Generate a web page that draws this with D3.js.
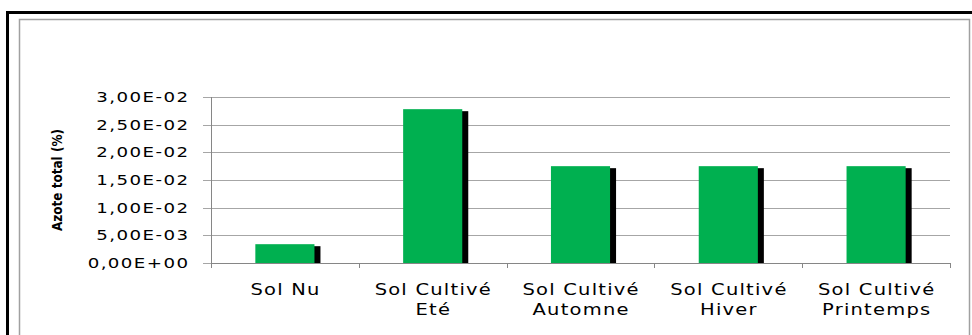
<!DOCTYPE html>
<html>
<head>
<meta charset="utf-8">
<script src="https://cdn.jsdelivr.net/npm/d3@7"></script>
<style>
  html, body { margin: 0; padding: 0; background: #fff; }
  svg { display: block; }
</style>
</head>
<body>
<script>
const categories = [["Sol Nu"], ["Sol Cultivé", "Eté"], ["Sol Cultivé", "Automne"], ["Sol Cultivé", "Hiver"], ["Sol Cultivé", "Printemps"]];
const values = [0.0034, 0.0278, 0.0175, 0.0175, 0.0175];
const yTicks = [0, 0.005, 0.01, 0.015, 0.02, 0.025, 0.03];
const yTickLabels = ["0,00E+00", "5,00E-03", "1,00E-02", "1,50E-02", "2,00E-02", "2,50E-02", "3,00E-02"];
const yTitle = "Azote total (%)";

(function () {
const W = 972, H = 335;
const stretch = 1.3;
const svg = d3.select("body").append("svg").attr("width", W).attr("height", H);

// frames
svg.append("path").attr("d", `M7.5,${H} L7.5,12.5 L${W},12.5`)
  .attr("fill", "none").attr("stroke", "#000").attr("stroke-width", 3);
svg.append("rect").attr("x", 19.5).attr("y", 19.5).attr("width", 950).attr("height", H)
  .attr("fill", "#fff").attr("stroke", "#a0a0a0").attr("stroke-width", 1.5);

const pl = 211, pr = 950, pt = 97, pb = 263;
const x = d3.scaleBand().domain(d3.range(categories.length)).range([pl, pr]).paddingInner(0).paddingOuter(0);
const y = d3.scaleLinear().domain([0, 0.03]).range([pb, pt]);

// gridlines
svg.append("g").selectAll("line").data(yTicks).join("line")
  .attr("x1", pl - 8).attr("x2", pr)
  .attr("y1", d => Math.round(y(d)) + 0.5).attr("y2", d => Math.round(y(d)) + 0.5)
  .attr("stroke", "#a6a6a6").attr("stroke-width", 1);

// y labels
const yls = 1.1;
svg.append("g").selectAll("g").data(yTicks).join("g")
  .attr("transform", d => `translate(${188 + yls * stretch},${y(d)})`)
  .append("text")
  .attr("transform", `scale(${stretch},1)`)
  .attr("text-anchor", "end").attr("dy", "0.36em")
  .attr("letter-spacing", yls)
  .attr("font-family", "DejaVu Sans").attr("font-size", 14).attr("fill", "#000")
  .text((d, i) => yTickLabels[i]);

// y axis line
svg.append("line").attr("x1", pl + 0.5).attr("x2", pl + 0.5).attr("y1", pt).attr("y2", pb + 5)
  .attr("stroke", "#868686").attr("stroke-width", 1);
// x axis line
svg.append("line").attr("x1", pl).attr("x2", pr).attr("y1", pb + 0.5).attr("y2", pb + 0.5)
  .attr("stroke", "#868686").attr("stroke-width", 1);
// x ticks at category boundaries
const bounds = d3.range(categories.length + 1).map(i => pl + i * x.step());
svg.append("g").selectAll("line").data(bounds).join("line")
  .attr("x1", d => Math.round(d) + 0.5).attr("x2", d => Math.round(d) + 0.5)
  .attr("y1", pb).attr("y2", pb + 5)
  .attr("stroke", "#868686").attr("stroke-width", 1);

// bars
const bw = x.step() * 0.4;
const bars = svg.append("g").selectAll("g").data(values).join("g");
bars.append("rect")
  .attr("x", (d, i) => x(i) + (x.step() - bw) / 2 + 6)
  .attr("y", d => y(d) + 2)
  .attr("width", bw)
  .attr("height", d => pb - y(d) - 2)
  .attr("fill", "#000");
bars.append("rect")
  .attr("x", (d, i) => x(i) + (x.step() - bw) / 2)
  .attr("y", d => y(d))
  .attr("width", bw)
  .attr("height", d => pb - y(d))
  .attr("fill", "#00b050");

// x labels
const xls = 0.95;
const xl = svg.append("g").selectAll("g").data(categories).join("g")
  .attr("transform", (d, i) => `translate(${x(i) + x.step() / 2 + xls * stretch / 2},295)`)
  .append("text")
  .attr("transform", `scale(${stretch},1)`)
  .attr("text-anchor", "middle")
  .attr("letter-spacing", xls)
  .attr("font-family", "DejaVu Sans").attr("font-size", 15).attr("fill", "#000");
xl.selectAll("tspan").data(d => d).join("tspan")
  .attr("x", 0).attr("dy", (d, i) => i === 0 ? 0 : 20)
  .text(d => d);

// y title
svg.append("g").attr("transform", "translate(62,180)")
  .append("text")
  .attr("transform", "scale(1.3,1) rotate(-90)")
  .attr("text-anchor", "middle")
  .attr("font-family", "DejaVu Sans").attr("font-weight", "bold").attr("font-size", 11)
  .attr("textLength", 102).attr("lengthAdjust", "spacingAndGlyphs")
  .attr("fill", "#000")
  .text(yTitle);
})();
</script>
</body>
</html>
